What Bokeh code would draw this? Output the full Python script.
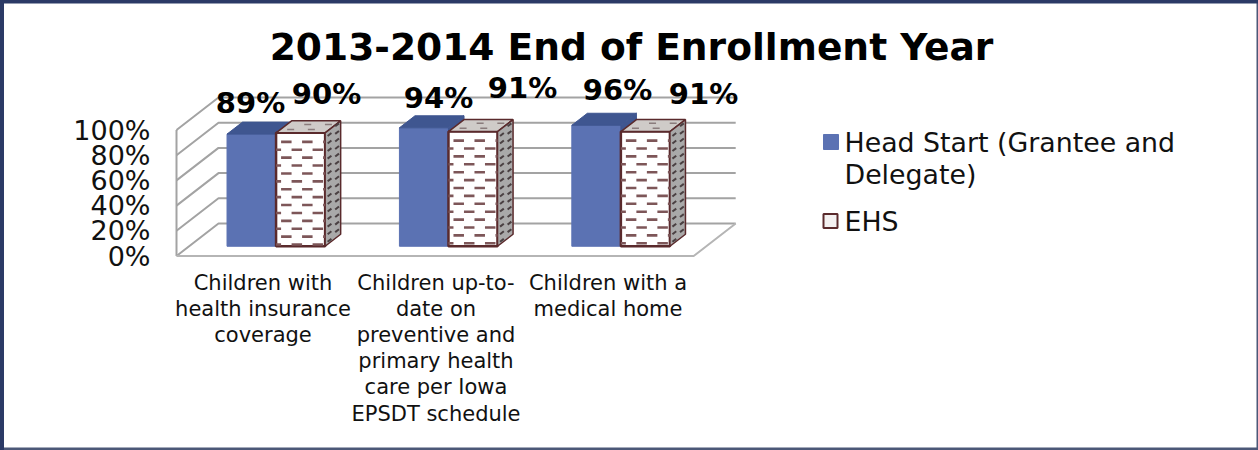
from bokeh.embed import file_html
from bokeh.models import FixedTicker, Range1d
from bokeh.plotting import figure
from bokeh.resources import INLINE
from bokeh.core.properties import value

# Chart data
title_text = "2013-2014 End of Enrollment Year"
categories = [
    ["Children with", "health insurance", "coverage"],
    ["Children up-to-", "date on", "preventive and", "primary health", "care per Iowa", "EPSDT schedule"],
    ["Children with a", "medical home"],
]
head_start = [89, 94, 96]
ehs = [90, 91, 91]
head_start_name = ["Head Start (Grantee and", "Delegate)"]
ehs_name = "EHS"
y_ticks = [0, 20, 40, 60, 80, 100]

# Colours and type
FONT = value("DejaVu Sans")
BLUE, BLUE_DARK = "#5b72b3", "#3f5690"
GRID = "#a3a3a3"
BROWN, DASH = "#5a2a2c", "#7d5658"
SIDE, TOP = "#a9a9a9", "#cfcbc8"

# Layout of the oblique projection, in canvas pixels
W, H = 1258, 450
FRAME_LEFT = 160
ORIGIN_X, ORIGIN_Y = 176.0, 255.5
PX_PER_CAT, PX_PER_PCT = 172.4, 1.26
DEPTH_X, DEPTH_Y = 42.0, 32.5
BAR_DEPTH_FRONT, BAR_DEPTH_BACK = 0.30, 0.67
BAR_GAP, BAR_WIDTH = 0.22, 0.2845


def cx(px):
    return (px - ORIGIN_X) / PX_PER_CAT


def cy(py):
    return (ORIGIN_Y - py) / PX_PER_PCT


def project(cat, pct, depth=0.0):
    """Map category position, percentage and depth to plot coordinates."""
    return cat + depth * DEPTH_X / PX_PER_CAT, pct + depth * DEPTH_Y / PX_PER_PCT


p = figure(
    width=W, height=H, output_backend="svg", toolbar_location=None,
    x_range=Range1d(cx(FRAME_LEFT), cx(W)), y_range=Range1d(cy(H), cy(0)),
    min_border_left=FRAME_LEFT, min_border_right=0, min_border_top=0, min_border_bottom=0,
    outline_line_color=None, background_fill_color=None, border_fill_color=None,
    x_axis_location=None,
)
# Outer frame of the chart area, painted behind the transparent plot
p.styles = {
    "box-shadow": "inset 4px 3.5px 0 #2b3a66, inset -1.5px -2.5px 0 #4c5878",
    "background": "white",
}
p.grid.visible = False
axis = p.yaxis[0]
axis.ticker = FixedTicker(ticks=y_ticks)
axis.axis_line_color = None
axis.major_tick_line_color = None
axis.minor_tick_line_color = None
axis.major_label_standoff = 4
axis.major_label_text_font = "DejaVu Sans"
axis.major_label_text_font_size = "27px"
axis.major_label_text_color = "#111111"
axis.major_label_overrides = {t: f"{t}%" for t in y_ticks}

# Walls and floor
n = len(categories)
for t in y_ticks:
    x0, y0 = project(0, t, 0)
    x1, y1 = project(0, t, 1)
    x2, y2 = project(n, t, 1)
    p.line([x0, x1, x2], [y0, y1, y2], line_color=GRID, line_width=2)
x0, y0 = project(0, 0, 0)
x1, y1 = project(0, y_ticks[-1], 0)
p.line([x0, x1], [y0, y1], line_color=GRID, line_width=2)
x2, y2 = project(n, 0, 0)
x3, y3 = project(n, 0, 1)
p.line([x0, x2, x3], [y0, y2, y3], line_color="#b5b5b5", line_width=2)


def face(c0, c1, v0, v1, d0, d1):
    """Four corners of a box face spanning the given ranges."""
    if d0 == d1:
        corners = [(c0, v0, d0), (c1, v0, d0), (c1, v1, d0), (c0, v1, d0)]
    elif v0 == v1:
        corners = [(c0, v0, d0), (c1, v0, d0), (c1, v0, d1), (c0, v0, d1)]
    else:
        corners = [(c0, v0, d0), (c0, v0, d1), (c0, v1, d1), (c0, v1, d0)]
    pts = [project(*c) for c in corners]
    return [q[0] for q in pts], [q[1] for q in pts]


def draw_face(xy, fill, line=None, width=0):
    p.patch(xy[0], xy[1], fill_color=fill, line_color=line or fill, line_width=width or 1)


dash_xs, dash_ys = [], []
speck_xs, speck_ys = [], []
top_xs, top_ys = [], []
ROW_STEP, DASH_PERIOD, DASH_LEN = 7.9, 21.0, 10.5

for i in range(n):
    left = i + BAR_GAP
    mid = left + BAR_WIDTH
    right = mid + BAR_WIDTH

    # Head Start column
    v = head_start[i]
    draw_face(face(left, mid, 0, v, BAR_DEPTH_FRONT, BAR_DEPTH_FRONT), BLUE)
    draw_face(face(left, mid, v, v, BAR_DEPTH_FRONT, BAR_DEPTH_BACK), BLUE_DARK)
    draw_face(face(mid, mid, 0, v, BAR_DEPTH_FRONT, BAR_DEPTH_BACK), BLUE_DARK)

    # EHS column
    v = ehs[i]
    draw_face(face(mid, right, 0, v, BAR_DEPTH_FRONT, BAR_DEPTH_FRONT), "white", BROWN, 2.5)
    draw_face(face(mid, right, v, v, BAR_DEPTH_FRONT, BAR_DEPTH_BACK), TOP, BROWN, 1.5)
    draw_face(face(right, right, 0, v, BAR_DEPTH_FRONT, BAR_DEPTH_BACK), SIDE, BROWN, 1.5)

    # Dashed fill of the front face, one staggered row at a time
    fx0, fy0 = project(mid, 0, BAR_DEPTH_FRONT)
    fx1, fy1 = project(right, v, BAR_DEPTH_FRONT)
    row_step = ROW_STEP / PX_PER_PCT
    period = DASH_PERIOD / PX_PER_CAT
    dash_len = DASH_LEN / PX_PER_CAT
    row = 0
    yy = fy1 - 9.0 / PX_PER_PCT
    while yy > fy0 + 0.5 / PX_PER_PCT:
        start = fx0 + (5.0 if row % 2 == 0 else 15.5) / PX_PER_CAT - period
        while start < fx1:
            a, b = max(start, fx0), min(start + dash_len, fx1)
            if b > a:
                dash_xs.append([a, b])
                dash_ys.append([yy, yy])
            start += period
        yy -= row_step
        row += 1

    # Short specks on the side face, slanted along the depth direction
    for col, d in enumerate([BAR_DEPTH_FRONT + 0.06, BAR_DEPTH_FRONT + 0.24]):
        vv = 2.0 + col * 3.0
        while vv < v:
            a = project(right, vv, d)
            b = project(right, vv, d + 0.09)
            speck_xs.append([a[0], b[0]])
            speck_ys.append([a[1], b[1]])
            vv += 6.0

    # Short dashes on the top face
    for d, offs in [(BAR_DEPTH_FRONT + 0.1, [0.04, 0.16]), (BAR_DEPTH_FRONT + 0.26, [0.10, 0.22])]:
        for o in offs:
            a = project(mid + o, v, d)
            top_xs.append([a[0], a[0] + 7 / PX_PER_CAT])
            top_ys.append([a[1], a[1]])

p.multi_line(dash_xs, dash_ys, line_color=DASH, line_width=2.6)
p.multi_line(speck_xs, speck_ys, line_color="#4a4042", line_width=2)
p.multi_line(top_xs, top_ys, line_color="#8a7c7c", line_width=1.5)

# Value labels sit just above the columns, nudged apart as in a hand-placed chart
label_px = [(250, 102), (326, 93), (438, 97), (522, 87), (617, 89), (703, 93.5)]
label_text = [f"{s}%" for pair in zip(head_start, ehs) for s in pair]
p.text([cx(q[0]) for q in label_px], [cy(q[1]) for q in label_px], text=label_text,
       text_font=FONT, text_font_style="bold", text_font_size="29px", text_color="black",
       text_align="center", text_baseline="middle")

# Category labels
LINE_STEP = 26.2
for i, lines in enumerate(categories):
    centre = [262.5, 435.5, 607.5][i]
    for j, line in enumerate(lines):
        p.text([cx(centre)], [cy(282 + j * LINE_STEP)], text=[line], text_font=FONT,
               text_font_size="21px", text_color="#111111", text_align="center", text_baseline="middle")

# Title
p.text([cx(631)], [cy(46)], text=[title_text], text_font=FONT, text_font_style="bold",
       text_font_size="37.6px", text_color="black", text_align="center", text_baseline="middle")

# Legend
p.quad(left=[cx(823)], right=[cx(838)], top=[cy(134)], bottom=[cy(149)], fill_color=BLUE, line_color=BLUE)
p.quad(left=[cx(823)], right=[cx(837)], top=[cy(213.5)], bottom=[cy(227.5)], fill_color="#f4f1f1",
       line_color=BROWN, line_width=2)
for j, line in enumerate(head_start_name):
    p.text([cx(844)], [cy(141.5 + j * 32)], text=[line], text_font=FONT, text_font_size="26.8px",
           text_color="#111111", text_align="left", text_baseline="middle")
p.text([cx(844)], [cy(220.5)], text=[ehs_name], text_font=FONT, text_font_size="26.8px",
       text_color="#111111", text_align="left", text_baseline="middle")

open("out.html", "w").write(file_html(p, INLINE))
